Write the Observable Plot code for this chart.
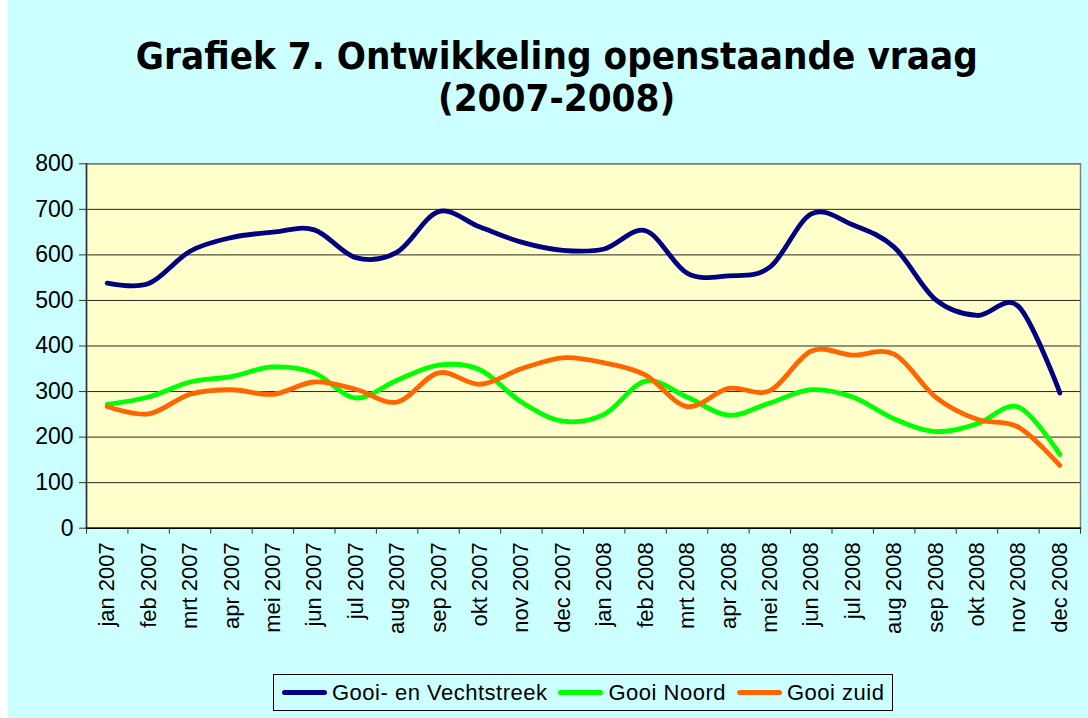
<!DOCTYPE html>
<html>
<head>
<meta charset="utf-8">
<script src="https://cdn.jsdelivr.net/npm/d3@7"></script>
<script src="https://cdn.jsdelivr.net/npm/@observablehq/plot@0.6"></script>
<style>
  body { margin: 0; background: #ffffff; }
  #page { position: relative; width: 1080px; height: 718px; margin-left: 8px; background: #CCFFFF; overflow: hidden; }
  #title { position: absolute; left: 0; top: 36px; width: 1097px; text-align: center;
           font-family: "DejaVu Sans", Verdana, sans-serif; font-weight: bold; font-size: 37px; line-height: 42px; color: #000; }
  #title span { display: inline-block; transform: scaleX(0.93); transform-origin: center; }
  #chart { position: absolute; left: 0; top: 150px; }
  #legend { position: absolute; left: 265px; top: 674px; width: 620px; height: 37px; box-sizing: border-box;
            border: 1px solid #000; display: flex; flex-wrap: nowrap; align-items: center; padding-left: 8px;
            font-family: "Liberation Sans", Arial, sans-serif; font-size: 22px; letter-spacing: 0.5px; color: #000;
            white-space: nowrap; overflow: hidden; }
  .item { display: flex; align-items: center; margin-right: 11px; flex-shrink: 0; white-space: nowrap; }
  .sw { width: 45px; height: 5px; border-radius: 3px; margin-right: 5px; flex-shrink: 0; }
</style>
</head>
<body>
<div id="page">
  <div id="title"><span>Grafiek 7. Ontwikkeling openstaande vraag</span><br><span>(2007-2008)</span></div>
  <div id="chart"></div>
  <div id="legend"></div>
</div>
<script>
const months = ["jan 2007","feb 2007","mrt 2007","apr 2007","mei 2007","jun 2007","jul 2007","aug 2007","sep 2007","okt 2007","nov 2007","dec 2007",
                "jan 2008","feb 2008","mrt 2008","apr 2008","mei 2008","jun 2008","jul 2008","aug 2008","sep 2008","okt 2008","nov 2008","dec 2008"];
const gooiVecht = [538, 537, 608, 638, 650, 655, 594, 606, 695, 661, 628, 610, 613, 653, 560, 554, 573, 690, 666, 617, 502, 467, 487, 297];
const gooiNoord = [272, 288, 321, 333, 354, 341, 286, 325, 358, 348, 277, 235, 250, 323, 288, 248, 275, 304, 288, 240, 212, 229, 266, 162];
const gooiZuid  = [267, 251, 294, 304, 294, 321, 305, 277, 341, 316, 350, 374, 363, 336, 267, 307, 302, 389, 380, 382, 288, 239, 222, 138];
const seriesNames = ["Gooi- en Vechtstreek", "Gooi Noord", "Gooi zuid"];
const seriesColors = ["#000080", "#00FF00", "#FF6600"];
const yTicks = [0, 100, 200, 300, 400, 500, 600, 700, 800];

const allSeries = [gooiVecht, gooiNoord, gooiZuid];
const rows = [];
allSeries.forEach((vals, s) => vals.forEach((v, i) => rows.push({i, month: months[i], series: seriesNames[s], value: v})));

const boundaries = d3.range(months.length + 1).map(i => i - 0.5);
const centers = d3.range(months.length);

const chart = Plot.plot({
  width: 1080, height: 500,
  marginTop: 13.3, marginLeft: 78, marginRight: 8, marginBottom: 122.3,
  style: { background: "transparent", fontFamily: "'Liberation Sans', Arial, sans-serif", fontSize: "21px", color: "#000" },
  x: { type: "linear", domain: [-0.5, months.length - 0.5] },
  y: { domain: [0, 800] },
  color: { domain: seriesNames, range: seriesColors },
  marks: [
    Plot.frame({ fill: "#FFFFCC", stroke: "none" }),
    Plot.gridY(yTicks, { stroke: "#000", strokeOpacity: 0.85, strokeWidth: 1 }),
    Plot.frame({ stroke: "#808080", strokeWidth: 1.5 }),
    Plot.frame({ anchor: "left", stroke: "#333", strokeWidth: 1.5 }),
    Plot.frame({ anchor: "bottom", stroke: "#000", strokeWidth: 1.5 }),
    Plot.axisY(yTicks, { tickSize: 7, tickPadding: 6, label: null, fontSize: 23, stroke: "#333" }),
    Plot.axisX(boundaries, { tickSize: 6, tickFormat: () => "", label: null, stroke: "#333" }),
    Plot.axisX(centers, { tickSize: 0, tickPadding: 14, tickRotate: -90, tickFormat: i => months[i], label: null, fontSize: 22 }),
    Plot.line(rows, { x: "i", y: "value", z: "series", stroke: "series", curve: "cardinal",
                      strokeWidth: 4.8, strokeLinejoin: "round", strokeLinecap: "round" })
  ]
});
document.getElementById("chart").appendChild(chart);

const legend = document.getElementById("legend");
seriesNames.forEach((name, k) => {
  const item = document.createElement("div");
  item.className = "item";
  const sw = document.createElement("div");
  sw.className = "sw";
  sw.style.background = seriesColors[k];
  const tx = document.createElement("span");
  tx.textContent = name;
  item.appendChild(sw); item.appendChild(tx);
  legend.appendChild(item);
});
</script>
</body>
</html>
